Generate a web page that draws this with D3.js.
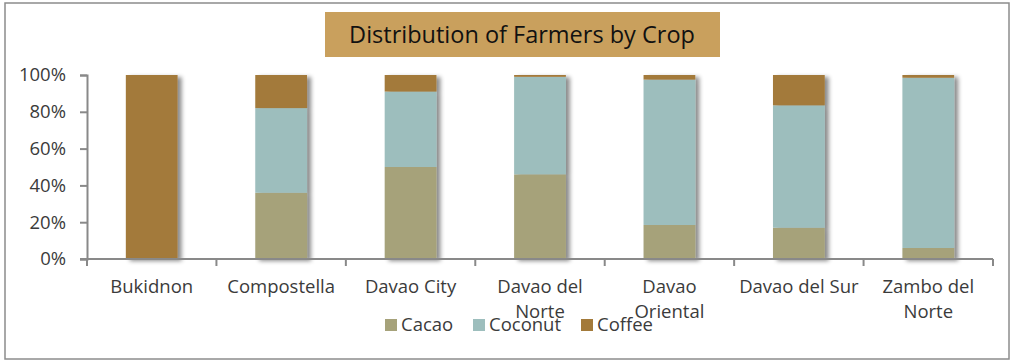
<!DOCTYPE html>
<html>
<head>
<meta charset="utf-8">
<script src="https://cdn.jsdelivr.net/npm/d3@7"></script>
<style>
  html, body { margin: 0; padding: 0; background: #fff; }
  svg { display: block; font-family: "Open Sans", sans-serif; }
</style>
</head>
<body>
<svg id="chart" width="1013" height="362"></svg>
<script>
// Share of farmers growing each crop, by province (percent)
const provinces = ["Bukidnon", "Compostella", "Davao City", "Davao del Norte", "Davao Oriental", "Davao del Sur", "Zambo del Norte"];
const provinceLines = [["Bukidnon"], ["Compostella"], ["Davao City"], ["Davao del", "Norte"], ["Davao", "Oriental"], ["Davao del Sur"], ["Zambo del", "Norte"]];
const crops = ["Cacao", "Coconut", "Coffee"];
const cacao   = [0, 36, 50, 46, 18.5, 17, 6];
const coconut = [0, 46, 41, 53, 79, 66.5, 92.5];
const coffee  = [100, 18, 9, 1, 2.5, 16.5, 1.5];
const yTicks = [0, 20, 40, 60, 80, 100];

const colors = { Cacao: "#a6a27a", Coconut: "#9dbebd", Coffee: "#a37a3a" };
const textColor = "#3b3b3b";
const axisColor = "#898989";
const fontSize = 18.5;

const svg = d3.select("#chart");

// outer frame
svg.append("rect").attr("x", 5).attr("y", 3).attr("width", 1004).attr("height", 356)
  .attr("fill", "#fff").attr("stroke", "#8c8c8c").attr("stroke-width", 1.5);

// bar shadow
const defs = svg.append("defs");
const f = defs.append("filter").attr("id", "shadow")
  .attr("x", "-30%").attr("y", "-10%").attr("width", "170%").attr("height", "130%");
f.append("feDropShadow").attr("dx", 4).attr("dy", 2).attr("stdDeviation", 2)
  .attr("flood-color", "#000").attr("flood-opacity", 0.45);

const rows = provinces.map((p, i) => ({ province: p, Cacao: cacao[i], Coconut: coconut[i], Coffee: coffee[i] }));
const series = d3.stack().keys(crops)(rows);

const x = d3.scaleBand().domain(provinces).range([87, 993]).paddingInner(0.6).paddingOuter(0.3);
const y = d3.scaleLinear().domain([0, 100]).range([259, 75]);

// bars: one shadowed group per province
const barGroups = svg.append("g").selectAll("g.bar").data(rows).join("g")
  .attr("class", "bar").attr("filter", "url(#shadow)");
barGroups.each(function(d, i) {
  const g = d3.select(this);
  series.forEach(s => {
    const seg = s[i];
    if (seg[1] - seg[0] <= 0) return;
    g.append("rect")
      .attr("x", x(d.province))
      .attr("width", x.bandwidth())
      .attr("y", y(seg[1]))
      .attr("height", y(seg[0]) - y(seg[1]))
      .attr("fill", colors[s.key]);
  });
});

// y axis
const yAxis = svg.append("g").attr("transform", "translate(87,0)")
  .call(d3.axisLeft(y).tickValues(yTicks).tickFormat(d => d + "%").tickSize(7).tickPadding(14));
yAxis.select(".domain").attr("stroke", axisColor).attr("stroke-width", 2);
yAxis.selectAll(".tick line").attr("stroke", axisColor).attr("stroke-width", 2);
yAxis.selectAll(".tick text").attr("fill", textColor).attr("font-size", fontSize)
  .attr("font-family", "Open Sans, sans-serif");

// x axis with boundary ticks between categories
const xb = d3.scaleLinear().domain([0, provinces.length]).range([87, 993]);
const xAxis = svg.append("g").attr("transform", "translate(0,259)");
xAxis.append("line").attr("x1", 80).attr("x2", 993).attr("stroke", axisColor).attr("stroke-width", 2);
xAxis.selectAll("line.tk").data(d3.range(provinces.length + 1)).join("line")
  .attr("class", "tk")
  .attr("x1", d => xb(d)).attr("x2", d => xb(d))
  .attr("y1", 0).attr("y2", 7)
  .attr("stroke", axisColor).attr("stroke-width", 2);

// category labels (wrapped)
const labels = svg.append("g");
provinces.forEach((p, i) => {
  const cx = x(p) + x.bandwidth() / 2;
  const t = labels.append("text").attr("text-anchor", "middle")
    .attr("fill", textColor).attr("font-size", fontSize);
  provinceLines[i].forEach((line, j) => {
    t.append("tspan").attr("x", cx).attr("y", 293 + j * 25).text(line);
  });
});

// legend
const legendX = [385, 473, 581];
const legend = svg.append("g");
crops.forEach((c, i) => {
  legend.append("rect").attr("x", legendX[i]).attr("y", 319).attr("width", 12).attr("height", 12)
    .attr("fill", colors[c]);
  legend.append("text").attr("x", legendX[i] + 16).attr("y", 331)
    .attr("fill", textColor).attr("font-size", fontSize).text(c);
});

// title box
svg.append("rect").attr("x", 325).attr("y", 12).attr("width", 395).attr("height", 45)
  .attr("fill", "#c9a05d");
svg.append("text").attr("x", 522).attr("y", 43).attr("text-anchor", "middle")
  .attr("fill", "#111").attr("font-size", 23.5).text("Distribution of Farmers by Crop");
</script>
</body>
</html>
